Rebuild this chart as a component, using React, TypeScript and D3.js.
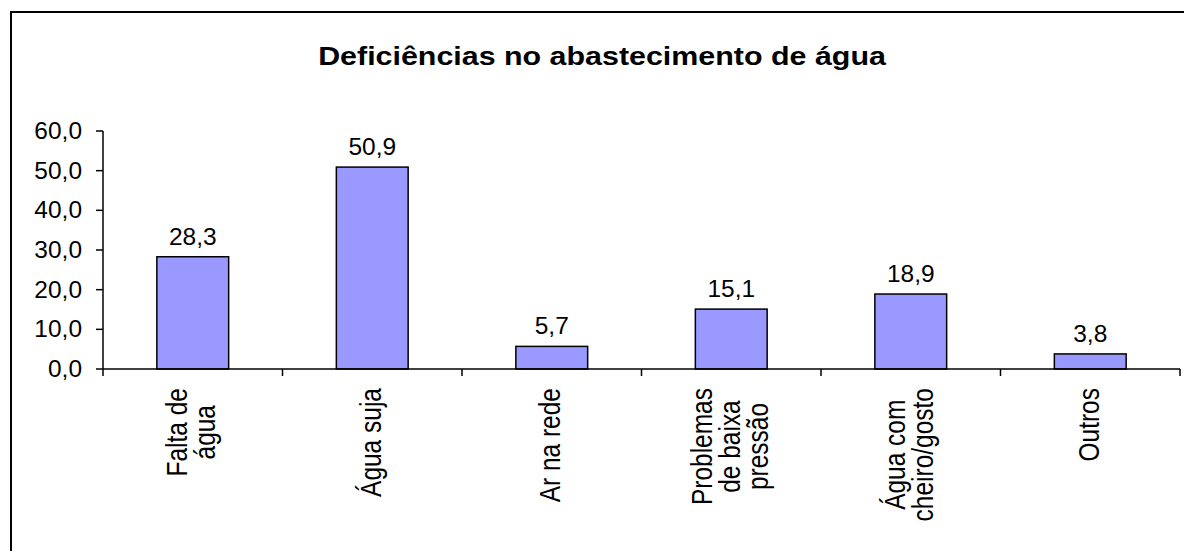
import React from "react";
import * as d3 from "d3";

const title = "Deficiências no abastecimento de água";
const categories = ["Falta de água", "Água suja", "Ar na rede", "Problemas de baixa pressão", "Água com cheiro/gosto", "Outros"];
const categoryLines = [["Falta de", "água"], ["Água suja"], ["Ar na rede"], ["Problemas", "de baixa", "pressão"], ["Água com", "cheiro/gosto"], ["Outros"]];
const values = [28.3, 50.9, 5.7, 15.1, 18.9, 3.8];
const yTicks = [0, 10, 20, 30, 40, 50, 60];

const W = 1184;
const H = 551;
const FONT = "'Liberation Sans', Arial, sans-serif";

function measure(text: string, size: number): number {
  const c = document.createElement("canvas");
  const ctx = c.getContext("2d");
  if (!ctx) return text.length * size * 0.5;
  ctx.font = `${size}px 'Liberation Sans', Arial, sans-serif`;
  return ctx.measureText(text).width;
}

const fmt = (v: number) => d3.format(".1f")(v).replace(".", ",");

export default function App() {
  const x0 = 103, x1 = 1180, yBottom = 369, yTop = 131;
  const bandAll = d3.scaleBand<string>().domain(categories).range([x0, x1]).padding(0);
  const bars = d3.scaleBand<string>().domain(categories).range([x0, x1]).paddingInner(0.6).paddingOuter(0.3);
  const y = d3.scaleLinear().domain([0, 60]).range([yBottom, yTop]);

  const labelSize = 24.5;
  const tickSize = 24;
  const hStretch = 1.02;
  const labelTop = 388;
  const lineGap = 28;

  return (
    <svg width={W} height={H} style={{ position: "absolute", left: 0, top: 0, background: "#fff" }} fontFamily={FONT}>
      <rect x={0} y={0} width={W} height={H} fill="#fff" />
      {/* frame */}
      <rect x={11} y={12} width={W + 40} height={H + 40} fill="none" stroke="#000" strokeWidth={2} />
      {/* title */}
      <text transform={`translate(602,65) scale(1.17,1)`} textAnchor="middle" fontSize={26} fontWeight="bold" fill="#000">
        {title}
      </text>
      {/* bars */}
      {categories.map((c, i) => (
        <rect
          key={c}
          x={bars(c)!}
          y={y(values[i])}
          width={bars.bandwidth()}
          height={y(0) - y(values[i])}
          fill="#9999FF"
          stroke="#000"
          strokeWidth={1.5}
        />
      ))}
      {/* value labels */}
      {categories.map((c, i) => (
        <text
          key={"v" + c}
          transform={`translate(${bars(c)! + bars.bandwidth() / 2},${y(values[i]) - 12}) scale(${hStretch},1)`}
          textAnchor="middle"
          fontSize={tickSize}
          fill="#000"
        >
          {fmt(values[i])}
        </text>
      ))}
      {/* y axis */}
      <line x1={x0} x2={x0} y1={yTop} y2={yBottom} stroke="#000" strokeWidth={1.5} />
      {yTicks.map((t) => (
        <g key={"t" + t}>
          <line x1={x0 - 7} x2={x0} y1={y(t)} y2={y(t)} stroke="#000" strokeWidth={1.5} />
          <text transform={`translate(82,${y(t) + 8}) scale(${hStretch},1)`} textAnchor="end" fontSize={tickSize} fill="#000">
            {fmt(t)}
          </text>
        </g>
      ))}
      {/* x axis */}
      <line x1={x0} x2={x1} y1={yBottom} y2={yBottom} stroke="#000" strokeWidth={1.5} />
      {[...categories.map((c) => bandAll(c)!), x1].map((bx, i) => (
        <line key={"xt" + i} x1={bx} x2={bx} y1={yBottom} y2={yBottom + 7} stroke="#000" strokeWidth={1.5} />
      ))}
      {/* category labels */}
      {categories.map((c, i) => {
        const lines = categoryLines[i];
        const maxLen = d3.max(lines, (l) => measure(l, labelSize)) || 0;
        const cx = bandAll(c)! + bandAll.bandwidth() / 2 - 1;
        const cy = labelTop + maxLen / 2;
        return lines.map((l, j) => {
          const lx = cx + (j - (lines.length - 1) / 2) * lineGap;
          return (
            <text
              key={c + j}
              transform={`translate(${lx},${cy}) scale(1.18,1) rotate(-90)`}
              textAnchor="middle"
              dominantBaseline="central"
              fontSize={labelSize}
              fill="#000"
            >
              {l}
            </text>
          );
        });
      })}
    </svg>
  );
}
